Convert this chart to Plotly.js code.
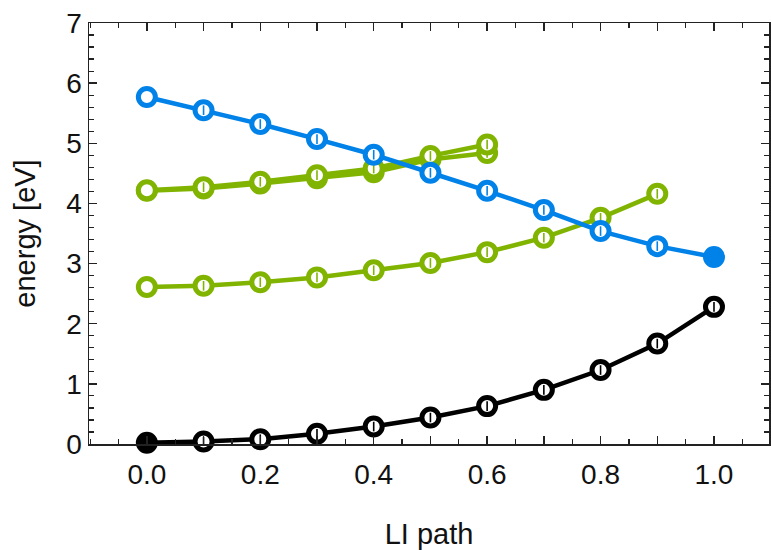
<!DOCTYPE html>
<html><head><meta charset="utf-8">
<script src="https://cdn.plot.ly/plotly-3.0.1.min.js"></script>
<style>html,body{margin:0;padding:0;background:#fff}</style>
</head><body>
<div id="chart" style="width:771px;height:550px"></div>
<script>
const xPath = [0.0, 0.1, 0.2, 0.3, 0.4, 0.5, 0.6, 0.7, 0.8, 0.9, 1.0];
const blueE = [5.77, 5.55, 5.32, 5.07, 4.81, 4.51, 4.21, 3.89, 3.54, 3.29, 3.11];
const greenUpperA = [4.22, 4.27, 4.36, 4.47, 4.58, 4.79, 4.98];
const greenUpperB = [4.21, 4.25, 4.33, 4.42, 4.52, 4.73, 4.84];
const greenLower = [2.61, 2.63, 2.69, 2.77, 2.89, 3.01, 3.19, 3.43, 3.76, 4.16];
const blackE = [0.02, 0.04, 0.08, 0.17, 0.29, 0.44, 0.63, 0.90, 1.23, 1.67, 2.28];
const errBar = 0.08;
const xTickVals = [0.0, 0.1, 0.2, 0.3, 0.4, 0.5, 0.6, 0.7, 0.8, 0.9, 1.0];
const xTickText = ['0.0', '', '0.2', '', '0.4', '', '0.6', '', '0.8', '', '1.0'];

const BLUE = 'rgb(0,130,232)';
const GREEN = 'rgb(128,180,0)';
const BLACK = '#000';
const FONT = 'Liberation Sans, Arial, Helvetica, sans-serif';

function series(x, y, color, filledIdx) {
  const fill = y.map((v, i) => filledIdx.includes(i) ? color : '#fff');
  return {
    x: x, y: y, type: 'scatter', mode: 'lines+markers',
    line: {color: color, width: 4.5},
    marker: {symbol: 'circle', size: 17, color: fill, line: {color: color, width: 5}},
    cliponaxis: false, showlegend: false, hoverinfo: 'skip'
  };
}
function bars(x, y, color) {
  const xs = x.slice(1), ys = y.slice(1);
  return {
    x: xs, y: ys, type: 'scatter', mode: 'markers',
    marker: {size: 0.1, color: 'rgba(0,0,0,0)'},
    error_y: {type: 'constant', value: errBar, color: color, thickness: 1.6, width: 0},
    cliponaxis: false, showlegend: false, hoverinfo: 'skip'
  };
}

const xg = xPath.slice(0, greenUpperA.length);
const xl = xPath.slice(0, greenLower.length);
const traces = [
  series(xg, greenUpperB, GREEN, []), bars(xg, greenUpperB, GREEN),
  series(xg, greenUpperA, GREEN, []), bars(xg, greenUpperA, GREEN),
  series(xl, greenLower, GREEN, []), bars(xl, greenLower, GREEN),
  series(xPath, blueE, BLUE, [10]), bars(xPath.slice(0, 10), blueE.slice(0, 10), BLUE),
  series(xPath, blackE, BLACK, [0]), bars(xPath, blackE, BLACK)
];

const axisCommon = {
  showline: true, linecolor: '#222', linewidth: 1.5, mirror: 'ticks',
  ticks: 'inside', ticklen: 8, tickwidth: 1.5, tickcolor: '#222',
  showgrid: false, zeroline: false,
  tickfont: {family: FONT, size: 28, color: '#111'}
};

const layout = {
  width: 771, height: 550,
  margin: {l: 89, r: 2, t: 23, b: 106},
  paper_bgcolor: '#fff', plot_bgcolor: '#fff',
  xaxis: Object.assign({}, axisCommon, {
    range: [-0.102, 1.097],
    tickmode: 'array', tickvals: xTickVals, ticktext: xTickText,
    ticklabelstandoff: 5,
    minor: {dtick: 0.05, tick0: 0, ticks: 'inside', ticklen: 5, tickwidth: 1.2, tickcolor: '#222'},
    title: {text: 'LI path', standoff: 35, font: {family: FONT, size: 29, color: '#111'}}
  }),
  yaxis: Object.assign({}, axisCommon, {
    range: [0, 7], dtick: 1, tick0: 0,
    minor: {dtick: 0.2, ticks: 'inside', ticklen: 5, tickwidth: 1.2, tickcolor: '#222'},
    title: {text: 'energy [eV]', standoff: 22, font: {family: FONT, size: 29, color: '#111'}}
  })
};

Plotly.newPlot('chart', traces, layout, {displayModeBar: false, staticPlot: true});
</script>
</body></html>
